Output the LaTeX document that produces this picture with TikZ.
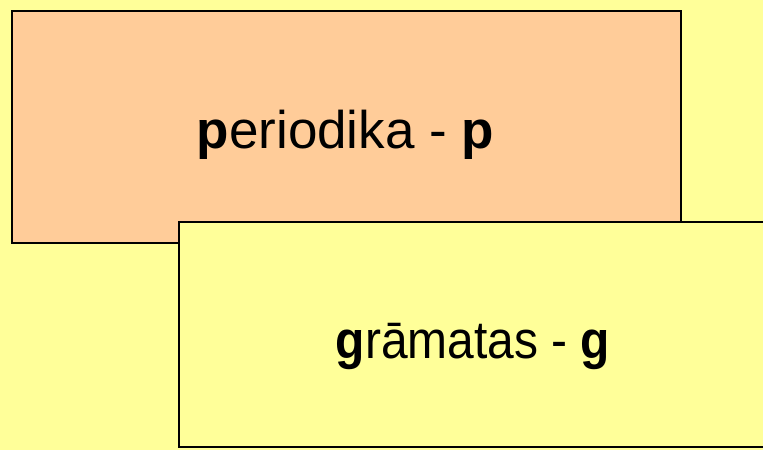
\documentclass[tikz,border=0pt]{standalone}
\usepackage{fontspec}
\setmainfont{Liberation Sans}
\usepackage{graphicx}
\usepackage{tikz}
\definecolor{bgyellow}{HTML}{FFFF99}
\definecolor{boxorange}{HTML}{FFCC99}
\tikzset{label text/.style={font=\fontsize{53}{60}\selectfont, anchor=base, inner sep=0pt}}
\begin{document}
\begin{tikzpicture}[x=1pt,y=-1pt]
         \fill[bgyellow] (0,0) rectangle (763,450);
         \useasboundingbox (0,0) rectangle (763,450);
         \begin{scope}
         \clip (0,0) rectangle (763,450);
         \draw[black, line width=2pt, fill=boxorange] (12,11) rectangle (681,243);
         \draw[black, line width=2pt, fill=bgyellow] (179,222) rectangle (780,447);
         \end{scope}
         
         \node[label text] (periodika) at (345.5,148) {\textbf{p}eriodika - \textbf{p}};
         \node[label text] (gramatas) at (473,358) {\scalebox{0.905}[1]{\textbf{g}rāmatas - \textbf{g}}};
    \end{tikzpicture}
\end{document}
